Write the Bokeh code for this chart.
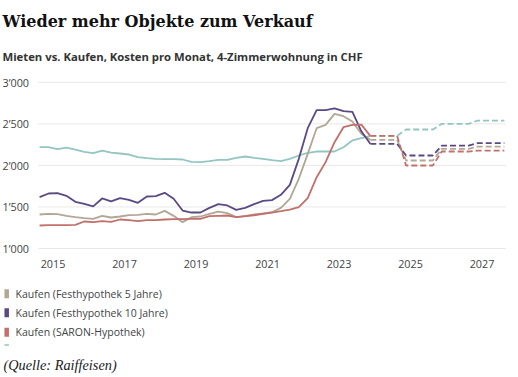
from bokeh.plotting import figure
from bokeh.models import Label, Range1d
from bokeh.core.properties import value
from bokeh.embed import file_html
from bokeh.resources import INLINE

# ---------------- data ----------------
hist_quarters = [f"{y}-Q{q}" for y in range(2014, 2024) for q in range(1, 5)][2:]   # 2014-Q3 .. 2023-Q4
fc_quarters = (["2023-Q4"] + [f"{y}-Q{q}" for y in range(2024, 2027) for q in range(1, 5)]
               + ["2027-Q1", "2027-Q2", "2027-Q3"])                                   # 2023-Q4 .. 2027-Q3

mieten = [2219, 2219, 2195, 2215, 2191, 2163, 2147, 2179, 2155, 2143, 2131, 2099, 2087,
          2079, 2075, 2075, 2071, 2043, 2039, 2051, 2067, 2067, 2091, 2107, 2090, 2079,
          2063, 2051, 2079, 2119, 2151, 2167, 2167, 2167, 2219, 2300, 2328, 2355]
fest5 = [1409, 1417, 1413, 1393, 1377, 1365, 1357, 1393, 1373, 1385, 1401, 1405, 1417,
         1409, 1453, 1393, 1317, 1377, 1385, 1417, 1445, 1425, 1377, 1389, 1410, 1421,
         1437, 1489, 1598, 1838, 2139, 2448, 2488, 2620, 2592, 2528, 2380, 2308]
fest10 = [1618, 1662, 1666, 1634, 1562, 1538, 1506, 1602, 1566, 1606, 1586, 1550, 1626,
          1630, 1670, 1598, 1457, 1433, 1433, 1489, 1534, 1518, 1465, 1489, 1533, 1574,
          1582, 1646, 1766, 2079, 2448, 2665, 2665, 2685, 2652, 2644, 2410, 2260]
saron = [1277, 1281, 1281, 1281, 1285, 1325, 1317, 1329, 1321, 1349, 1341, 1329, 1341,
         1341, 1349, 1353, 1353, 1357, 1357, 1389, 1393, 1397, 1377, 1389, 1400, 1417,
         1433, 1449, 1469, 1497, 1605, 1858, 2039, 2279, 2460, 2488, 2490, 2355]

mieten_fc = [2355, 2355, 2355, 2355, 2432, 2432, 2432, 2432, 2500, 2500, 2500, 2500,
             2540, 2540, 2540, 2540]
fest5_fc = [2308, 2308, 2308, 2308, 2059, 2059, 2059, 2059, 2199, 2199, 2199, 2199,
            2227, 2227, 2227, 2227]
fest10_fc = [2260, 2260, 2260, 2260, 2119, 2119, 2119, 2119, 2239, 2239, 2239, 2239,
             2267, 2267, 2267, 2267]
saron_fc = [2355, 2355, 2355, 2355, 1999, 1999, 1999, 1999, 2167, 2167, 2167, 2167,
            2179, 2179, 2179, 2179]

y_ticks = [1000, 1500, 2000, 2500, 3000]
y_tick_labels = ["1’000", "1’500", "2’000", "2’500", "3’000"]
x_ticks = [2015, 2017, 2019, 2021, 2023, 2025, 2027]
x_tick_labels = ["2015", "2017", "2019", "2021", "2023", "2025", "2027"]

series_names = ["Kaufen (Festhypothek 5 Jahre)", "Kaufen (Festhypothek 10 Jahre)",
                "Kaufen (SARON-Hypothek)"]

C_TEAL = "#94c6c1"
C_BEIGE = "#b2a695"
C_PURPLE = "#5a4983"
C_RED = "#c2706a"
C_TEXT = "#444444"

# ---------------- layout helpers (page pixels -> data) ----------------
W, H = 518, 377
PX_PER_YEAR = 35.75
PX_PER_UNIT = 0.0831
X_START = 2015 - 52.5 / PX_PER_YEAR
X_END = X_START + W / PX_PER_YEAR
Y_END = 1000 + 248 / PX_PER_UNIT
Y_START = Y_END - H / PX_PER_UNIT


def px2x(px):
    return X_START + px / PX_PER_YEAR


def px2y(py):
    return Y_END - py / PX_PER_UNIT


def qx(s):
    y, q = s.split("-Q")
    return int(y) + (int(q) - 1) * 0.25 + 0.125


xh = [qx(s) for s in hist_quarters]
xf = [qx(s) for s in fc_quarters]

# ---------------- figure ----------------
p = figure(width=W, height=H, output_backend="svg", toolbar_location=None,
           x_range=Range1d(X_START, X_END), y_range=Range1d(Y_START, Y_END),
           x_axis_type=None, y_axis_type=None, min_border=0)
p.outline_line_color = None
p.background_fill_color = "white"
p.border_fill_color = "white"

# grid lines
plot_left, plot_right = px2x(38), px2x(505.5)
p.segment(x0=[plot_left] * len(y_ticks), x1=[plot_right] * len(y_ticks),
          y0=y_ticks, y1=y_ticks, line_color="#e8e8e8", line_width=1)

# tick labels
p.text(x=[plot_left] * len(y_ticks), y=y_ticks, text=y_tick_labels,
       x_offset=-9.5, text_align="right", text_baseline="middle",
       text_font=value("Open Sans"), text_font_size=value("10.8px"), text_color=C_TEXT)
p.text(x=x_ticks, y=[px2y(263)] * len(x_ticks), text=x_tick_labels,
       text_align="center", text_baseline="middle",
       text_font=value("Open Sans"), text_font_size=value("10.8px"), text_color=C_TEXT)

# series
for ys, col in ((mieten, C_TEAL), (fest5, C_BEIGE), (fest10, C_PURPLE), (saron, C_RED)):
    p.line(xh, ys, line_color=col, line_width=1.8)
for ys, col in ((mieten_fc, C_TEAL), (fest5_fc, C_BEIGE), (fest10_fc, C_PURPLE), (saron_fc, C_RED)):
    p.line(xf, ys, line_color=col, line_width=1.8, line_dash="6 3")

# legend
row_y = [px2y(293.3), px2y(312.3), px2y(331.7)]
p.rect(x=[px2x(6.2)] * 3, y=row_y, width=4.5, height=9,
       width_units="screen", height_units="screen",
       fill_color=[C_BEIGE, C_PURPLE, C_RED], line_color=None)
p.text(x=[px2x(15)] * 3, y=row_y, text=series_names, text_baseline="middle",
       text_font=value("Open Sans"), text_font_size=value("10.5px"), text_color=C_TEXT)
p.rect(x=[px2x(6.2)], y=[px2y(344.5)], width=4.5, height=1.5,
       width_units="screen", height_units="screen", fill_color=C_TEAL, line_color=None)

# title, subtitle, source
p.add_layout(Label(x=px2x(2), y=px2y(20.5), text="Wieder mehr Objekte zum Verkauf",
                   text_font="DejaVu Serif", text_font_style="bold", text_font_size="16px",
                   text_color="#111111", text_baseline="alphabetic"))
p.add_layout(Label(x=px2x(2), y=px2y(55.7),
                   text="Mieten vs. Kaufen, Kosten pro Monat, 4-Zimmerwohnung in CHF",
                   text_font="Open Sans", text_font_style="bold", text_font_size="11.3px",
                   text_color="#333333", text_baseline="alphabetic"))
p.add_layout(Label(x=px2x(3), y=px2y(364.5), text="(Quelle: Raiffeisen)",
                   text_font="Liberation Serif", text_font_style="italic", text_font_size="14.3px",
                   text_color="#1a1a1a", text_baseline="alphabetic"))

open("out.html", "w").write(file_html(p, INLINE))
